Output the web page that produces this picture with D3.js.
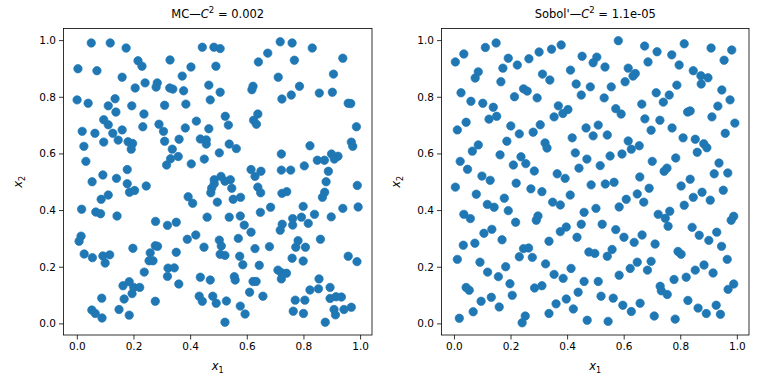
<!DOCTYPE html>
<html>
<head>
<meta charset="utf-8">
<script src="https://cdn.jsdelivr.net/npm/d3@7"></script>
<style>
  body { margin: 0; background: #fff; }
  svg { display: block; font-family: "DejaVu Sans", sans-serif; }
</style>
</head>
<body>
<div id="chart"></div>
<script>
// points, [x1, x2]
var mcPoints = [
  [0.051,0.990],[0.118,0.990],[0.174,0.972],[0.216,0.927],[0.230,0.908],[0.004,0.899],[0.071,0.892],[0.160,0.869],
  [0.241,0.849],[0.206,0.831],[0.284,0.849],[0.280,0.834],[0.001,0.789],[0.040,0.777],[0.135,0.793],[0.111,0.768],
  [0.194,0.768],[0.310,0.770],[0.138,0.746],[0.237,0.739],[0.095,0.719],[0.111,0.701],[0.233,0.694],[0.290,0.703],
  [0.019,0.678],[0.064,0.671],[0.127,0.671],[0.160,0.683],[0.306,0.678],[0.146,0.647],[0.095,0.640],[0.181,0.641],
  [0.197,0.635],[0.310,0.643],[0.025,0.625],[0.192,0.615],[0.032,0.572],[0.178,0.543],[0.092,0.524],[0.140,0.512],
  [0.317,0.559],[0.054,0.500],[0.178,0.493],[0.245,0.485],[0.329,0.930],
  [0.443,0.975],[0.484,0.975],[0.506,0.970],[0.674,0.954],[0.403,0.905],[0.491,0.908],[0.641,0.923],[0.372,0.873],
  [0.328,0.831],[0.339,0.827],[0.377,0.821],[0.466,0.841],[0.506,0.816],[0.622,0.837],[0.618,0.825],[0.471,0.789],
  [0.385,0.774],[0.524,0.731],[0.639,0.739],[0.624,0.717],[0.634,0.703],[0.535,0.700],[0.422,0.714],[0.383,0.690],
  [0.466,0.687],[0.361,0.650],[0.436,0.651],[0.457,0.648],[0.457,0.633],[0.538,0.633],[0.563,0.617],[0.337,0.615],
  [0.358,0.589],[0.331,0.581],[0.503,0.602],[0.450,0.580],[0.404,0.563],[0.615,0.543],[0.650,0.537],[0.629,0.519],
  [0.485,0.507],[0.509,0.519],[0.542,0.507],[0.523,0.502],[0.485,0.493],
  [0.718,0.994],[0.760,0.990],[0.831,0.972],[0.768,0.929],[0.939,0.936],[0.711,0.869],[0.906,0.880],[0.786,0.837],
  [0.724,0.792],[0.757,0.806],[0.856,0.813],[0.902,0.816],[0.958,0.777],[0.967,0.776],[0.987,0.694],[0.969,0.640],
  [0.974,0.625],[0.823,0.627],[0.722,0.598],[0.849,0.576],[0.874,0.576],[0.899,0.598],[0.922,0.590],[0.909,0.580],
  [0.722,0.541],[0.755,0.541],[0.803,0.556],[0.888,0.537],[0.880,0.500],[0.990,0.487],
  [0.186,0.463],[0.204,0.469],[0.111,0.453],[0.086,0.438],[0.017,0.403],[0.067,0.393],[0.084,0.387],[0.142,0.379],
  [0.278,0.360],[0.320,0.346],[0.015,0.308],[0.008,0.290],[0.198,0.265],[0.277,0.274],[0.285,0.272],[0.026,0.245],
  [0.055,0.232],[0.092,0.238],[0.116,0.242],[0.100,0.213],[0.259,0.249],[0.255,0.221],[0.269,0.221],[0.322,0.195],
  [0.238,0.181],[0.320,0.166],[0.185,0.147],[0.163,0.133],[0.201,0.127],[0.222,0.127],[0.195,0.105],[0.088,0.089],
  [0.167,0.086],[0.277,0.078],[0.053,0.047],[0.065,0.035],[0.089,0.019],[0.149,0.049],[0.185,0.029],
  [0.476,0.477],[0.473,0.461],[0.547,0.477],[0.639,0.481],[0.649,0.461],[0.393,0.447],[0.409,0.424],[0.496,0.428],
  [0.552,0.438],[0.578,0.445],[0.648,0.392],[0.684,0.410],[0.460,0.375],[0.538,0.375],[0.577,0.379],[0.591,0.347],
  [0.615,0.322],[0.351,0.357],[0.420,0.312],[0.390,0.297],[0.503,0.294],[0.510,0.273],[0.570,0.300],[0.449,0.269],
  [0.680,0.271],[0.629,0.264],[0.351,0.251],[0.506,0.244],[0.523,0.240],[0.575,0.237],[0.586,0.207],[0.644,0.205],
  [0.344,0.196],[0.436,0.163],[0.471,0.153],[0.556,0.165],[0.559,0.153],[0.622,0.148],[0.633,0.148],[0.360,0.139],
  [0.610,0.110],[0.657,0.096],[0.432,0.096],[0.443,0.078],[0.480,0.096],[0.492,0.071],[0.528,0.079],[0.577,0.061],
  [0.594,0.033],[0.523,0.004],
  [0.724,0.459],[0.741,0.465],[0.875,0.463],[0.867,0.445],[0.799,0.413],[0.939,0.406],[0.993,0.411],[0.839,0.385],
  [0.898,0.376],[0.762,0.370],[0.793,0.375],[0.817,0.353],[0.762,0.347],[0.725,0.350],[0.718,0.329],[0.860,0.297],
  [0.781,0.292],[0.773,0.269],[0.807,0.269],[0.760,0.230],[0.799,0.220],[0.958,0.237],[0.989,0.218],[0.710,0.188],
  [0.722,0.179],[0.740,0.177],[0.722,0.157],[0.855,0.157],[0.823,0.118],[0.853,0.122],[0.894,0.127],[0.894,0.088],
  [0.915,0.094],[0.934,0.093],[0.771,0.082],[0.805,0.082],[0.764,0.043],[0.800,0.035],[0.908,0.049],[0.913,0.030],
  [0.943,0.049],[0.969,0.057],[0.877,0.004]
];

var sobolPoints = [
  [0.005,0.923],[0.035,0.951],[0.111,0.974],[0.149,0.990],[0.192,0.936],[0.173,0.901],[0.224,0.912],[0.265,0.934],
  [0.301,0.958],[0.313,0.880],[0.086,0.888],[0.075,0.866],[0.166,0.853],[0.025,0.814],[0.060,0.784],[0.102,0.777],
  [0.139,0.763],[0.214,0.800],[0.246,0.828],[0.259,0.820],[0.294,0.796],[0.151,0.731],[0.124,0.721],[0.043,0.710],
  [0.012,0.683],[0.201,0.697],[0.231,0.669],[0.280,0.675],[0.305,0.701],[0.187,0.643],[0.086,0.630],[0.065,0.608],
  [0.322,0.637],[0.329,0.619],[0.163,0.595],[0.237,0.588],[0.254,0.564],[0.210,0.559],[0.284,0.538],[0.022,0.572],
  [0.048,0.544],[0.099,0.520],[0.128,0.505],[0.005,0.481],[0.220,0.495],
  [0.379,0.983],[0.345,0.968],[0.581,0.998],[0.674,0.979],[0.453,0.943],[0.505,0.940],[0.492,0.920],[0.534,0.905],
  [0.412,0.894],[0.339,0.859],[0.616,0.901],[0.641,0.882],[0.633,0.873],[0.605,0.853],[0.686,0.923],[0.432,0.845],
  [0.482,0.835],[0.556,0.835],[0.450,0.806],[0.531,0.796],[0.369,0.768],[0.403,0.755],[0.385,0.741],[0.354,0.729],
  [0.572,0.758],[0.591,0.739],[0.664,0.774],[0.675,0.722],[0.510,0.700],[0.467,0.690],[0.492,0.662],[0.542,0.665],
  [0.418,0.655],[0.616,0.644],[0.655,0.627],[0.627,0.615],[0.594,0.598],[0.429,0.602],[0.470,0.580],[0.552,0.591],
  [0.517,0.557],[0.442,0.548],[0.365,0.528],[0.393,0.512],[0.657,0.517],[0.485,0.489],[0.535,0.492],[0.566,0.498],
  [0.814,0.987],[0.718,0.959],[0.770,0.948],[0.909,0.972],[0.982,0.965],[0.955,0.929],[0.796,0.912],[0.846,0.892],
  [0.873,0.874],[0.898,0.867],[0.874,0.845],[0.788,0.841],[0.947,0.824],[0.715,0.814],[0.761,0.806],[0.740,0.781],
  [0.976,0.789],[0.933,0.767],[0.826,0.746],[0.835,0.750],[0.912,0.729],[0.728,0.717],[0.697,0.682],[0.771,0.690],
  [0.993,0.707],[0.959,0.671],[0.810,0.655],[0.853,0.650],[0.883,0.634],[0.894,0.620],[0.860,0.604],[0.784,0.584],
  [0.701,0.572],[0.753,0.548],[0.743,0.537],[0.937,0.566],[0.920,0.528],[0.968,0.531],[0.835,0.509],
  [0.079,0.456],[0.272,0.475],[0.311,0.465],[0.178,0.442],[0.118,0.420],[0.142,0.410],[0.192,0.398],[0.035,0.385],
  [0.058,0.370],[0.218,0.357],[0.297,0.379],[0.291,0.364],[0.134,0.332],[0.106,0.318],[0.170,0.295],[0.074,0.283],
  [0.033,0.276],[0.246,0.264],[0.264,0.266],[0.231,0.235],[0.277,0.233],[0.012,0.226],[0.092,0.216],[0.183,0.200],
  [0.119,0.181],[0.157,0.165],[0.324,0.210],[0.198,0.140],[0.043,0.127],[0.054,0.117],[0.285,0.125],[0.311,0.133],
  [0.206,0.099],[0.132,0.092],[0.096,0.078],[0.160,0.058],[0.068,0.041],[0.019,0.018],[0.252,0.026],[0.241,0.002],
  [0.336,0.035],
  [0.411,0.453],[0.349,0.428],[0.376,0.418],[0.460,0.392],[0.502,0.406],[0.584,0.411],[0.609,0.438],[0.648,0.457],
  [0.671,0.428],[0.450,0.350],[0.397,0.340],[0.376,0.324],[0.524,0.350],[0.572,0.331],[0.601,0.304],[0.637,0.286],
  [0.665,0.312],[0.435,0.304],[0.336,0.290],[0.477,0.252],[0.498,0.247],[0.559,0.261],[0.542,0.237],[0.414,0.194],
  [0.354,0.173],[0.386,0.159],[0.460,0.148],[0.510,0.148],[0.584,0.170],[0.623,0.194],[0.648,0.216],[0.684,0.188],
  [0.439,0.110],[0.520,0.096],[0.563,0.089],[0.397,0.086],[0.361,0.069],[0.597,0.064],[0.627,0.042],[0.658,0.071],
  [0.422,0.051],[0.471,0.011],[0.545,0.007],
  [0.803,0.485],[0.690,0.477],[0.846,0.445],[0.877,0.463],[0.906,0.435],[0.952,0.470],[0.814,0.417],[0.722,0.385],
  [0.763,0.396],[0.747,0.371],[0.757,0.343],[0.989,0.378],[0.980,0.364],[0.842,0.339],[0.867,0.311],[0.901,0.293],
  [0.929,0.322],[0.946,0.272],[0.711,0.280],[0.792,0.254],[0.803,0.244],[0.966,0.226],[0.697,0.219],[0.884,0.206],
  [0.853,0.188],[0.916,0.178],[0.821,0.163],[0.778,0.155],[0.729,0.131],[0.733,0.115],[0.754,0.102],[0.989,0.139],
  [0.969,0.120],[0.827,0.081],[0.863,0.054],[0.892,0.035],[0.927,0.064],[0.942,0.032],[0.708,0.026],[0.782,0.015]
];

var tickValues = [0.0, 0.2, 0.4, 0.6, 0.8, 1.0];
var panelTitles = [
  { prefix: "MC\u2014", value: "0.002" },
  { prefix: "Sobol'\u2014", value: "1.1e-05" }
];

var width = 768,
    height = 384,
    blue = "#1f77b4";

var svg = d3.select("#chart").append("svg")
    .attr("width", width)
    .attr("height", height);

// each panel: pixel box of the axes and the data window it shows
var panels = [
  { points: mcPoints, title: panelTitles[0], box: [63.5, 28.5, 372, 335], xdom: [-0.047, 1.042], ydom: [-0.041, 1.041] },
  { points: sobolPoints, title: panelTitles[1], box: [441.5, 28.5, 749, 335], xdom: [-0.044, 1.043], ydom: [-0.041, 1.041] }
];

panels.forEach(function(p) {
  var x = d3.scaleLinear().domain(p.xdom).range([p.box[0], p.box[2]]);
  var y = d3.scaleLinear().domain(p.ydom).range([p.box[3], p.box[1]]);
  var g = svg.append("g");

  g.append("g")
    .selectAll("circle")
    .data(p.points)
    .enter().append("circle")
      .attr("cx", function(d) { return x(d[0]); })
      .attr("cy", function(d) { return y(d[1]); })
      .attr("r", 4.2)
      .style("fill", blue)
      .style("stroke", blue)
      .style("stroke-width", 0.7);

  var xAxis = g.append("g")
    .attr("transform", "translate(0," + p.box[3] + ")")
    .call(d3.axisBottom(x).tickValues(tickValues).tickFormat(d3.format(".1f")).tickSizeOuter(0).tickSize(4.5).tickPadding(3));
  var yAxis = g.append("g")
    .attr("transform", "translate(" + p.box[0] + ",0)")
    .call(d3.axisLeft(y).tickValues(tickValues).tickFormat(d3.format(".1f")).tickSizeOuter(0).tickSize(4.5).tickPadding(3));

  [xAxis, yAxis].forEach(function(a) {
    a.select(".domain").remove();
    a.selectAll("line").style("stroke", "#000").style("stroke-width", 0.8);
    a.selectAll("text").style("font-family", "DejaVu Sans").style("font-size", "10.5px").style("fill", "#000");
  });

  g.append("rect")
    .attr("x", p.box[0])
    .attr("y", p.box[1])
    .attr("width", p.box[2] - p.box[0])
    .attr("height", p.box[3] - p.box[1])
    .style("fill", "none")
    .style("stroke", "#000")
    .style("stroke-width", 0.8);

  var cx = (p.box[0] + p.box[2]) / 2;

  // title: prefix + italic C with superscript 2
  var t = g.append("text")
    .attr("x", cx)
    .attr("y", 18)
    .attr("text-anchor", "middle")
    .style("font-size", "11.5px");
  t.append("tspan").text(p.title.prefix);
  t.append("tspan").style("font-style", "italic").text("C");
  t.append("tspan").attr("dy", -5).style("font-size", "8.5px").text("2");
  t.append("tspan").attr("dy", 5).text(" = " + p.title.value);

  // x label
  var xl = g.append("text")
    .attr("x", cx)
    .attr("y", 370)
    .attr("text-anchor", "middle")
    .style("font-size", "11.5px");
  xl.append("tspan").style("font-style", "italic").text("x");
  xl.append("tspan").attr("dy", 3).style("font-size", "8px").text("1");

  // y label
  var yl = g.append("text")
    .attr("transform", "translate(" + (p.box[0] - 42) + "," + ((p.box[1] + p.box[3]) / 2) + ") rotate(-90)")
    .attr("text-anchor", "middle")
    .style("font-size", "11.5px");
  yl.append("tspan").style("font-style", "italic").text("x");
  yl.append("tspan").attr("dy", 3).style("font-size", "8px").text("2");
});
</script>
</body>
</html>
